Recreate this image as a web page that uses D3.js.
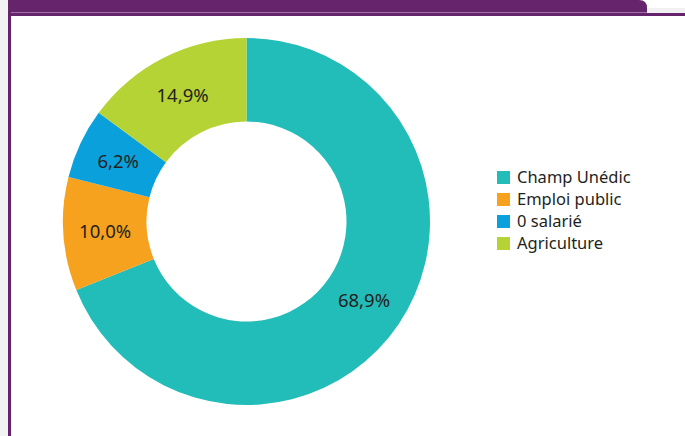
<!DOCTYPE html>
<html>
<head>
<meta charset="utf-8">
<script src="https://cdn.jsdelivr.net/npm/d3@7"></script>
<style>
  body { margin: 0; background: #fff; }
  svg { display: block; }
</style>
</head>
<body>
<div id="chart"></div>
<script>
// data
const categories = ["Champ Unédic", "Emploi public", "0 salarié", "Agriculture"];
const shares = [68.9, 10.0, 6.2, 14.9];
const colours = ["#22bcb9", "#f6a21e", "#0aa0dc", "#b5d334"];

const width = 685, height = 436;
const purple = "#65246b";

const svg = d3.select("#chart").append("svg")
    .attr("width", width)
    .attr("height", height);

// frame: faint grey margin, purple header bar and left rule
svg.append("rect").attr("x", 0).attr("y", 0).attr("width", 8).attr("height", height).attr("fill", "#f3f3f3");
svg.append("rect").attr("x", 647).attr("y", 8).attr("width", 38).attr("height", 5).attr("fill", "#f1f1f1");
svg.append("path")
    .attr("d", "M8,0 H639 Q647,0 647,8 V13 H8 Z")
    .attr("fill", purple);
svg.append("rect").attr("x", 8).attr("y", 12).attr("width", 639).attr("height", 1).attr("fill", "#9a73a0");
svg.append("rect").attr("x", 8).attr("y", 13).attr("width", width - 8).attr("height", 3).attr("fill", purple);
svg.append("rect").attr("x", 8).attr("y", 12).attr("width", 3).attr("height", height - 12).attr("fill", purple);

// donut
const cx = 246.5, cy = 221.5;
const outerR = 183.5, innerR = 100;

const colour = d3.scaleOrdinal().domain(categories).range(colours);

const pie = d3.pie().sort(null).value(d => d.value);
const arc = d3.arc().innerRadius(innerR).outerRadius(outerR);

const data = categories.map((c, i) => ({ name: c, value: shares[i] }));

const g = svg.append("g").attr("transform", `translate(${cx},${cy})`);

const slices = g.selectAll("g.slice")
    .data(pie(data))
    .join("g")
    .attr("class", "slice");

slices.append("path")
    .attr("d", arc)
    .attr("fill", d => colour(d.data.name));

slices.append("text")
    .attr("transform", d => `translate(${arc.centroid(d)})`)
    .attr("text-anchor", "middle")
    .attr("dy", "0.36em")
    .attr("font-family", "'Noto Sans', 'Open Sans', sans-serif")
    .attr("font-size", 18.5)
    .attr("fill", "#231f20")
    .text(d => d3.format(".1f")(d.data.value).replace(".", ",") + "%");

// legend
const legend = svg.append("g").attr("transform", "translate(497,177)");

const rows = legend.selectAll("g")
    .data(categories)
    .join("g")
    .attr("transform", (d, i) => `translate(0,${i * 22})`);

rows.append("rect")
    .attr("x", 0)
    .attr("y", -6)
    .attr("width", 13)
    .attr("height", 13)
    .attr("fill", d => colour(d));

rows.append("text")
    .attr("x", 20)
    .attr("dy", "0.36em")
    .attr("font-family", "'Noto Sans', 'Open Sans', sans-serif")
    .attr("font-size", 16.5)
    .attr("fill", "#231f20")
    .text(d => d);
</script>
</body>
</html>
